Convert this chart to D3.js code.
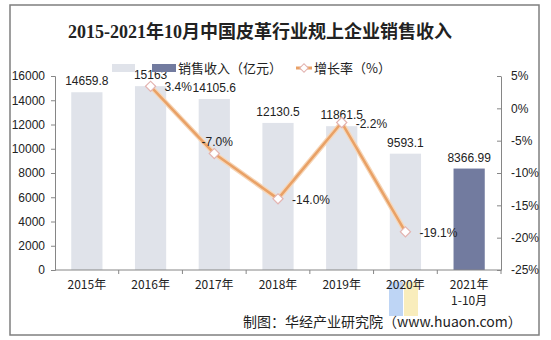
<!DOCTYPE html>
<html>
<head>
<meta charset="utf-8">
<script src="https://cdn.jsdelivr.net/npm/d3@7"></script>
<style>
  html, body { margin: 0; padding: 0; background: #fff; }
  svg { display: block; }
  text { font-family: "Liberation Sans", Arial, "Noto Sans CJK SC", sans-serif; }
</style>
</head>
<body>
<svg id="chart" width="551" height="340"></svg>
<script>
// Sales revenue of leather enterprises above designated size, 2015 – Oct 2021
const categories = ["2015年", "2016年", "2017年", "2018年", "2019年", "2020年", "2021年\n1-10月"];
const revenue = [14659.8, 15163, 14105.6, 12130.5, 11861.5, 9593.1, 8366.99];
const revenueLabels = ["14659.8", "15163", "14105.6", "12130.5", "11861.5", "9593.1", "8366.99"];
const growthCategories = ["2016年", "2017年", "2018年", "2019年", "2020年"];
const growth = [3.4, -7.0, -14.0, -2.2, -19.1];
const growthLabels = ["3.4%", "-7.0%", "-14.0%", "-2.2%", "-19.1%"];
const leftTicks = [0, 2000, 4000, 6000, 8000, 10000, 12000, 14000, 16000];
const rightTicks = [5, 0, -5, -10, -15, -20, -25];

const svg = d3.select("#chart");
const cjk = '"Noto Sans CJK SC", "Liberation Sans", sans-serif';

// outer frame
svg.append("rect").attr("x", 10).attr("y", 5).attr("width", 529).attr("height", 330)
  .attr("fill", "#fff").attr("stroke", "#7f7f7f").attr("stroke-width", 1.5);

// title
svg.append("text").attr("x", 260).attr("y", 38).attr("text-anchor", "middle")
  .style("font-family", '"Liberation Serif", "Noto Sans CJK SC", serif')
  .style("font-size", "18px").style("font-weight", "bold").attr("fill", "#222")
  .text("2015-2021年10月中国皮革行业规上企业销售收入");

const plotLeft = 55, plotRight = 501, plotTop = 76, plotBottom = 270;

const x = d3.scaleBand().domain(categories).range([plotLeft, plotRight]).paddingInner(0.51).paddingOuter(0.255);
const xBand = d3.scaleBand().domain(categories).range([plotLeft, plotRight]);
const y = d3.scaleLinear().domain([0, 16000]).range([plotBottom, plotTop]);
const y2 = d3.scaleLinear().domain([-25, 5]).range([plotBottom, plotTop]);

// publisher stamp blocks (behind the axis labels)
const wm = svg.append("g").attr("opacity", 0.75);
wm.append("rect").attr("x", 389).attr("y", 282).attr("width", 14).attr("height", 34).attr("fill", "#a9c8f2");
wm.append("rect").attr("x", 404).attr("y", 282).attr("width", 14).attr("height", 34).attr("fill", "#f7e7a6");

// bars
svg.append("g").selectAll("rect").data(revenue).join("rect")
  .attr("x", (d, i) => x(categories[i]))
  .attr("y", d => y(d))
  .attr("width", x.bandwidth())
  .attr("height", d => plotBottom - y(d))
  .attr("fill", (d, i) => i === revenue.length - 1 ? "#727b9f" : "#e0e3ea");

// bar value labels
svg.append("g").selectAll("text").data(revenue).join("text")
  .attr("x", (d, i) => x(categories[i]) + x.bandwidth() / 2)
  .attr("y", d => y(d) - 7)
  .attr("text-anchor", "middle").style("font-size", "12px").attr("fill", "#222")
  .text((d, i) => revenueLabels[i]);

// left axis
const gl = svg.append("g").attr("transform", `translate(${plotLeft},0)`)
  .call(d3.axisLeft(y).tickValues(leftTicks).tickFormat(d3.format("d")).tickSize(4).tickPadding(6));
gl.select(".domain").attr("stroke", "#868686");
gl.selectAll(".tick line").attr("stroke", "#868686");
gl.selectAll(".tick text").style("font-size", "12px").attr("fill", "#222")
  .style("font-family", '"Liberation Sans", Arial, sans-serif');

// right axis (ticks drawn inward)
const gr = svg.append("g").attr("transform", `translate(${plotRight},0)`)
  .call(d3.axisRight(y2).tickValues(rightTicks).tickSize(0).tickPadding(10).tickFormat(d => d + "%"));
gr.select(".domain").attr("stroke", "#868686");
gr.selectAll(".tick").append("line").attr("x1", -4).attr("x2", 0).attr("stroke", "#868686");
gr.selectAll(".tick text").style("font-size", "12px").attr("fill", "#222")
  .style("font-family", '"Liberation Sans", Arial, sans-serif');

// bottom axis with ticks at category boundaries
const gb = svg.append("g").attr("transform", `translate(0,${plotBottom})`);
gb.append("line").attr("x1", plotLeft).attr("x2", plotRight).attr("stroke", "#868686");
gb.selectAll("line.sep").data(categories.slice(1)).join("line").attr("class", "sep")
  .attr("x1", d => xBand(d)).attr("x2", d => xBand(d)).attr("y1", 0).attr("y2", 4).attr("stroke", "#868686");
gb.append("line").attr("x1", plotRight).attr("x2", plotRight).attr("y1", 0).attr("y2", 4).attr("stroke", "#868686");
const xl = gb.selectAll("text").data(categories).join("text")
  .attr("x", d => xBand(d) + xBand.bandwidth() / 2)
  .attr("y", 19).attr("text-anchor", "middle").style("font-size", "12px").attr("fill", "#222")
  .style("font-family", cjk);
xl.each(function(d) {
  const lines = d.split("\n");
  const t = d3.select(this);
  lines.forEach((s, k) => t.append("tspan").attr("x", t.attr("x")).attr("dy", k === 0 ? 0 : 16).text(s));
});

// growth line
const cx = c => xBand(c) + xBand.bandwidth() / 2;
const line = d3.line().x((d, i) => cx(growthCategories[i])).y(d => y2(d));
svg.append("path").datum(growth).attr("d", line).attr("fill", "none")
  .attr("stroke", "#f6d6b8").attr("stroke-width", 5).attr("stroke-linejoin", "round");
svg.append("path").datum(growth).attr("d", line).attr("fill", "none")
  .attr("stroke", "#e9a166").attr("stroke-width", 2.5).attr("stroke-linejoin", "round");

// diamond markers
svg.append("g").selectAll("path").data(growth).join("path")
  .attr("transform", (d, i) => `translate(${cx(growthCategories[i])},${y2(d)}) rotate(45)`)
  .attr("d", "M-3.6,-3.6H3.6V3.6H-3.6Z")
  .attr("fill", "#fff").attr("stroke", "#e3b3b0").attr("stroke-width", 1.2);

// growth labels (the 2017 label sits above its point)
svg.append("g").selectAll("text").data(growth).join("text")
  .attr("x", (d, i) => i === 1 ? cx(growthCategories[i]) + 3 : cx(growthCategories[i]) + 14)
  .attr("y", (d, i) => i === 1 ? y2(d) - 8 : y2(d) + 5)
  .attr("text-anchor", (d, i) => i === 1 ? "middle" : "start")
  .style("font-size", "12px").attr("fill", "#222")
  .text((d, i) => growthLabels[i]);

// legend
const lg = svg.append("g");
lg.append("rect").attr("x", 112).attr("y", 64).attr("width", 23).attr("height", 8).attr("fill", "#e0e3ea");
lg.append("rect").attr("x", 152).attr("y", 64).attr("width", 24).attr("height", 8).attr("fill", "#727b9f");
lg.append("text").attr("x", 178).attr("y", 73).style("font-size", "13px").style("font-family", cjk)
  .attr("fill", "#222").text("销售收入（亿元）");
lg.append("line").attr("x1", 296).attr("x2", 312).attr("y1", 68).attr("y2", 68)
  .attr("stroke", "#e9a166").attr("stroke-width", 3);
lg.append("path").attr("transform", "translate(304,68) rotate(45)").attr("d", "M-3,-3H3V3H-3Z")
  .attr("fill", "#fff").attr("stroke", "#e3b3b0").attr("stroke-width", 1);
lg.append("text").attr("x", 314).attr("y", 73).style("font-size", "13px").style("font-family", cjk)
  .attr("fill", "#222").text("增长率（%）");

// source line
svg.append("text").attr("x", 243).attr("y", 327).style("font-size", "14px").style("font-family", cjk)
  .attr("fill", "#222").text("制图：华经产业研究院（www.huaon.com）");
</script>
</body>
</html>
